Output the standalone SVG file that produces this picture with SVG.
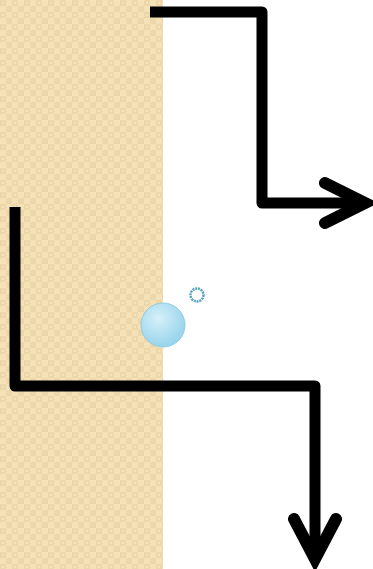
<svg xmlns="http://www.w3.org/2000/svg" width="373" height="569" viewBox="0 0 373 569">
<style>
.ln{fill:none;stroke:#000;stroke-width:11;stroke-linejoin:round}
.hd{fill:none;stroke:#000;stroke-width:12;stroke-linecap:round;stroke-linejoin:miter}
</style>
<defs>
<pattern id="chk" width="12" height="12" patternUnits="userSpaceOnUse">
<rect width="12" height="12" fill="#f4e1b6"/>
<rect x="0" y="0" width="6" height="6" fill="#ecd7aa"/>
<rect x="6" y="6" width="6" height="6" fill="#ecd7aa"/>
<rect x="2" y="2" width="2" height="2" fill="#f4e1b6"/>
</pattern>
<radialGradient id="bub" cx="0.4" cy="0.35" r="0.7">
<stop offset="0" stop-color="#d6f0fa"/>
<stop offset="1" stop-color="#92d2ea"/>
</radialGradient>
</defs>
<rect x="0" y="0" width="163" height="569" fill="url(#chk)"/>
<g id="connectors">
<path class="ln" d="M150 12 H262 V203 H362"/>
<path class="hd" d="M325 183 L365 203 L325 223"/>
<path class="ln" d="M15 207 V386 H315 V556"/>
<path class="hd" d="M294 519 L315 559 L336 519"/>
</g>
<g id="bubble">
<circle cx="163" cy="325" r="22" fill="url(#bub)" stroke="#8dcde6" stroke-width="1"/>
</g>
<g id="small-bubble">
<circle cx="197" cy="295" r="6.5" fill="none" stroke="#5aa6bd" stroke-width="2.5" stroke-dasharray="2 0.8"/>
</g>
</svg>
